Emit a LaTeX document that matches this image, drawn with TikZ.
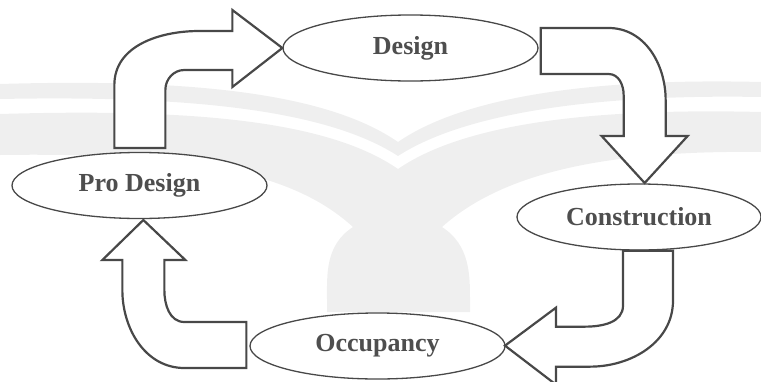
\documentclass[tikz,border=0pt]{standalone}
\usepackage{fontspec}
\setmainfont{Liberation Serif}
\usepackage{tikz}
\usetikzlibrary{shapes,calc}
\definecolor{linegray}{RGB}{72,72,72}
\definecolor{textgray}{RGB}{78,78,78}
\definecolor{markgray}{RGB}{239,239,239}
\pgfdeclarelayer{bg}
\pgfsetlayers{bg,main}
\tikzstyle{phase} = [draw=linegray, fill=white, line width=1.3pt, ellipse, inner sep=0pt, minimum width=255, minimum height=66, text=textgray, font=\bfseries\fontsize{26}{30}\selectfont]
\tikzstyle{bigarrow} = [draw=linegray, line width=2.2pt, line join=miter, fill=white]

\begin{document}
\begin{tikzpicture}[x=1pt, y=-1pt]
\useasboundingbox (0,0) rectangle (761,381);

%% Phases %%
\node [phase] (Design) at (410.5,48) {Design};
\node [phase] (ProDesign) at ($(Design)+(-271,137.5)$) {Pro Design};
\node [phase, minimum width=244] (Construction) at ($(Design)+(228.5,169)$) {Construction};
\node [phase] (Occupancy) at ($(Design)+(-33,298)$) {Occupancy};

%% Watermerk %%
\begin{pgfonlayer}{bg}
\fill[markgray] (0,84) .. controls (200,78) and (330,95) .. (398,142) .. controls (466,95) and (600,78) .. (761,82) -- (761,97) .. controls (600,94) and (466,112) .. (398,156) .. controls (330,112) and (200,95) .. (0,99) -- cycle;
\fill[markgray] (0,114) .. controls (200,108) and (330,122) .. (398,169) .. controls (466,122) and (600,108) .. (761,112) -- (761,152) .. controls (600,150) and (500,175) .. (442,227) .. controls (470,245) and (470,275) .. (470,300) -- (470,312) -- (327,312) -- (327,300) .. controls (327,275) and (325,245) .. (353,227) .. controls (296,175) and (200,152) .. (0,155) -- cycle;
\end{pgfonlayer}

%% Pijlen %%
% Pro Design -> Design
\draw[bigarrow] (Design.west) -- ++(-50,39) -- ++(0,-17) -- ++(-48,0) to[out=180,in=90] ++(-19,20) -- ++(0,58) -- ++(-51,0) -- ++(0,-63) to[out=90,in=180] ++(85,-54) -- ++(33,0) -- ++(0,-21) -- cycle;

% Design -> Construction
\draw[bigarrow] ($(Design.east)+(2,-20)$) -- ++(68,0) to[out=0,in=90] ++(57,72) -- ++(0,36) -- ++(22,0) -- ++(-43,47) -- ++(-43,-47) -- ++(22,0) -- ++(0,-41) to[out=90,in=0] ++(-15,-21) -- ++(-68,0) -- cycle;

% Construction -> Occupancy
\draw[bigarrow] ($(Construction.south)+(-16,0)$) -- ++(0,55) to[out=270,in=0] ++(-38,21) -- ++(-29,0) -- ++(0,-19) -- ++(-51,38) -- ++(51,39) -- ++(0,-18) -- ++(34,0) to[out=0,in=270] ++(83,-66) -- ++(0,-50) -- cycle;

% Occupancy -> Pro Design
\draw[bigarrow] ($(Occupancy.west)+(-3,-24)$) -- ++(-62,0) to[out=180,in=270] ++(-20,-32) -- ++(0,-30) -- ++(21,0) -- ++(-42,-40) -- ++(-41,40) -- ++(20,0) -- ++(0,30) to[out=270,in=180] ++(62,78) -- ++(62,0) -- cycle;
\end{tikzpicture}
\end{document}
